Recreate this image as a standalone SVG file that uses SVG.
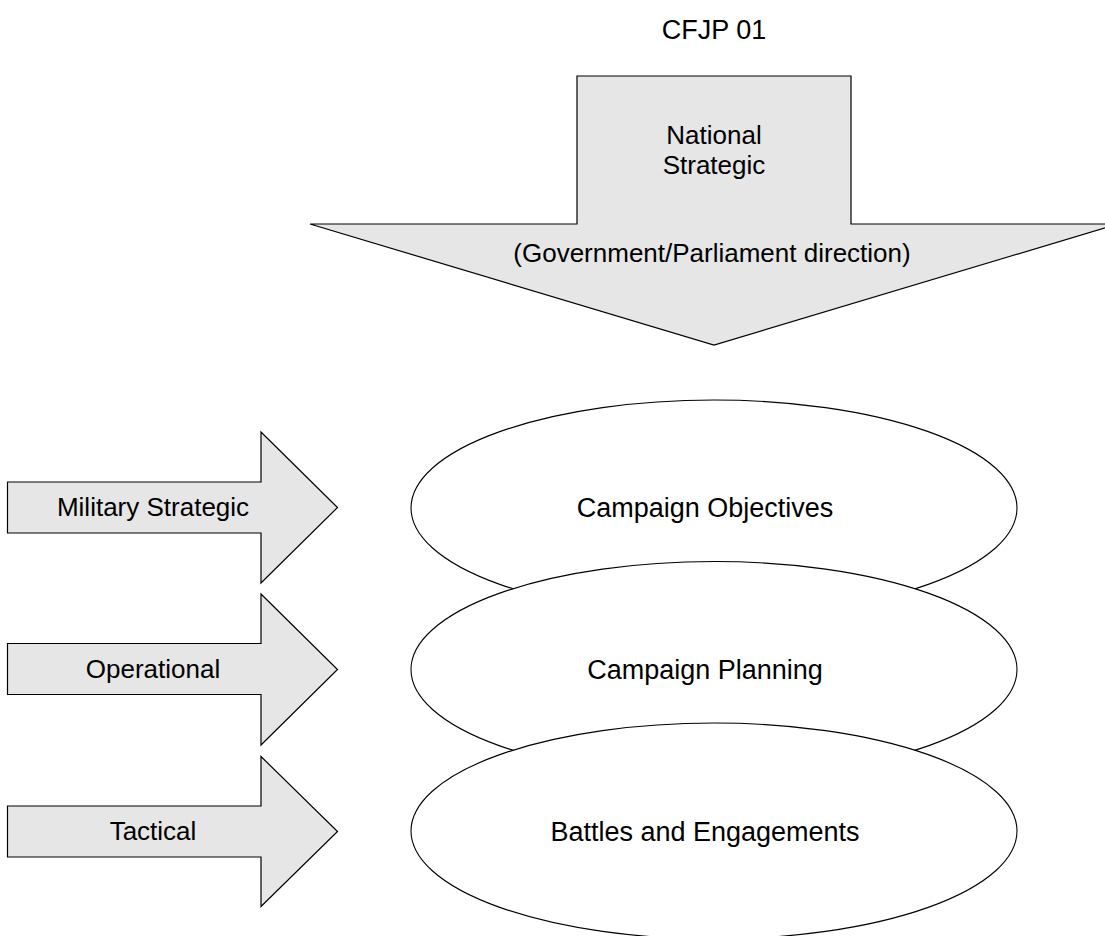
<svg xmlns="http://www.w3.org/2000/svg" width="1105" height="936" viewBox="0 0 1105 936">
<style>
.shape{fill:#e6e6e6;stroke:#000;stroke-width:1.2;stroke-linejoin:miter}
.oval{fill:#fff;stroke:#000;stroke-width:1.1}
text{font-family:"Liberation Sans",Arial,sans-serif;font-size:26px;fill:#000;text-anchor:middle}
.big{font-size:27px}
</style>
<rect width="1105" height="936" fill="#fff"/>
<g id="title"><text class="big" x="714" y="39">CFJP 01</text></g>
<g id="national-strategic">
<polygon class="shape" points="577,76 851,76 851,224 1118,224 714,345 310,224 577,224"/>
<text x="714" y="144">National</text>
<text x="714" y="174">Strategic</text>
<text x="712" y="262">(Government/Parliament direction)</text>
</g>
<g id="military-strategic">
<polygon class="shape" points="7.5,482 261,482 261,432 337.5,507.5 261,583 261,533 7.5,533"/>
<text x="153" y="516">Military Strategic</text>
</g>
<g id="operational">
<polygon class="shape" points="7.5,643.5 261,643.5 261,594 337.5,669.5 261,745 261,694.5 7.5,694.5"/>
<text x="153" y="678">Operational</text>
</g>
<g id="tactical">
<polygon class="shape" points="7.5,806 261,806 261,756.5 337.5,831.5 261,906.5 261,857 7.5,857"/>
<text x="153" y="840">Tactical</text>
</g>
<g id="campaign-objectives">
<ellipse class="oval" cx="714" cy="508" rx="303" ry="108"/>
<text class="big" x="705" y="517">Campaign Objectives</text>
</g>
<g id="campaign-planning">
<ellipse class="oval" cx="714" cy="669.5" rx="303" ry="108"/>
<text class="big" x="705" y="679">Campaign Planning</text>
</g>
<g id="battles-engagements">
<ellipse class="oval" cx="714" cy="831" rx="303" ry="108"/>
<text class="big" x="705" y="841">Battles and Engagements</text>
</g>
<g id="connectors"></g>
</svg>
